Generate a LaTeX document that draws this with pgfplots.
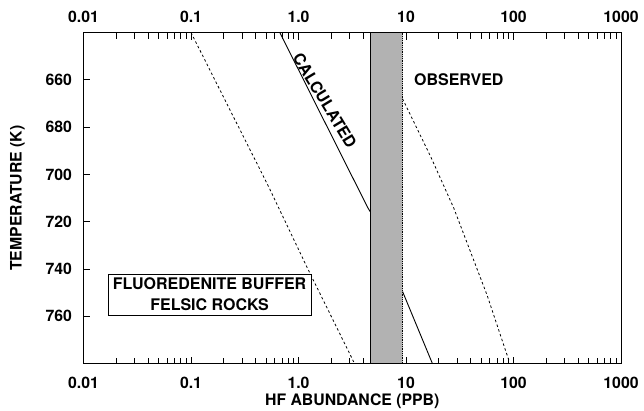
\documentclass[border=0pt]{standalone}
\usepackage{fontspec}
\setmainfont{TeX Gyre Heros}
\usepackage{pgfplots}
\pgfplotsset{compat=1.18}
\usetikzlibrary{calc}
\newcommand{\tkf}{\bfseries\fontsize{15.8}{18}\selectfont}
\newcommand{\lbf}{\bfseries\fontsize{16}{21}\selectfont}
\begin{document}
\begin{tikzpicture}
\begin{axis}[name=main,
  scale only axis, width=537.5pt, height=331pt,
  clip=false,
  xmode=log, xmin=0.01, xmax=1000, ymin=640, ymax=780, y dir=reverse,
  xtick={0.01,0.1,1,10,100,1000},
  xticklabels={0.01,0.1,1.0,10,100,1000},
  minor xtick={0.02,0.03,0.04,0.05,0.06,0.07,0.08,0.09,0.2,0.3,0.4,0.5,0.6,0.7,0.8,0.9,2,3,4,5,6,7,8,9,20,30,40,50,60,70,80,90,200,300,400,500,600,700,800,900},
  ytick={660,680,700,720,740,760},
  xmajorticks=true, xminorticks=true, ymajorticks=true,
  xtick pos=both, ytick pos=left,
  xticklabel pos=lower,
  tick align=inside,
  major tick length=7pt, minor tick length=6pt,
  every tick/.style={black, line width=0.6pt},
  tick label style={font=\tkf},
  /pgf/number format/assume math mode=true,
  axis line style={line width=0.9pt},
  yticklabel style={xshift=-8pt},
  xticklabel style={yshift=-10pt},
  xlabel={HF ABUNDANCE (PPB)},
  ylabel={TEMPERATURE (K)},
  every axis x label/.style={at={(axis description cs:0.5,0)}, anchor=center, yshift=-38pt, font=\tkf},
  every axis y label/.style={at={(axis description cs:0,0.5)}, anchor=center, rotate=90, yshift=66pt, font=\tkf},
]
% observed band
\addplot[fill=black!30, draw=none] coordinates {
  (4.65,640.3) (9.3,640.3) (9.3,779.7) (4.65,779.7) (4.65,640.3)
};
\addplot[black, line width=0.8pt] coordinates {(4.65,640) (4.65,780)};
\addplot[black, line width=0.8pt, densely dotted] coordinates {(9.3,640) (9.3,780)};
% left dashed line
\addplot[black, line width=0.8pt, dash pattern=on 2.5pt off 2.5pt] coordinates {
  (0.1,640) (0.522,704.8) (1.224,740.1) (3.32,780)
};
% calculated solid line (hidden inside the observed band)
\addplot[black, line width=0.9pt] coordinates {
  (0.67,640) (4.40,714) (4.65,715.8)
};
\addplot[black, line width=0.9pt] coordinates {
  (9.3,749.6) (17.6,780)
};
% right dashed line
\addplot[black, line width=0.8pt, dash pattern=on 2.5pt off 2.5pt] coordinates {
  (9.28,668) (16.97,692.5) (27.9,714.4) (56.9,751.2) (90.3,778.5)
};
\node[font=\lbf] at (axis cs:31,660) {OBSERVED};
\node[font=\lbf, rotate=-58.8] at (axis cs:1.76,668.8) {CALCULATED};
\node[draw, line width=0.8pt, fill=white, align=center, font=\lbf,
      inner xsep=5pt, inner ysep=4pt] at (axis cs:0.149,750.8)
  {FLUOREDENITE BUFFER\\FELSIC ROCKS};
% top tick labels
\node[font=\tkf, anchor=center, yshift=15.5pt] at (axis cs:0.01,640) {0.01};
\node[font=\tkf, anchor=center, yshift=15.5pt] at (axis cs:0.1,640) {0.1};
\node[font=\tkf, anchor=center, yshift=15.5pt] at (axis cs:1,640) {1.0};
\node[font=\tkf, anchor=center, yshift=15.5pt] at (axis cs:10,640) {10};
\node[font=\tkf, anchor=center, yshift=15.5pt] at (axis cs:100,640) {100};
\node[font=\tkf, anchor=center, yshift=15.5pt] at (axis cs:1000,640) {1000};
\end{axis}
\pgfresetboundingbox
\path[use as bounding box] ($(main.south west)+(-83.5pt,-46.5pt)$) rectangle ($(main.north east)+(23pt,32.5pt)$);
\end{tikzpicture}
\end{document}
